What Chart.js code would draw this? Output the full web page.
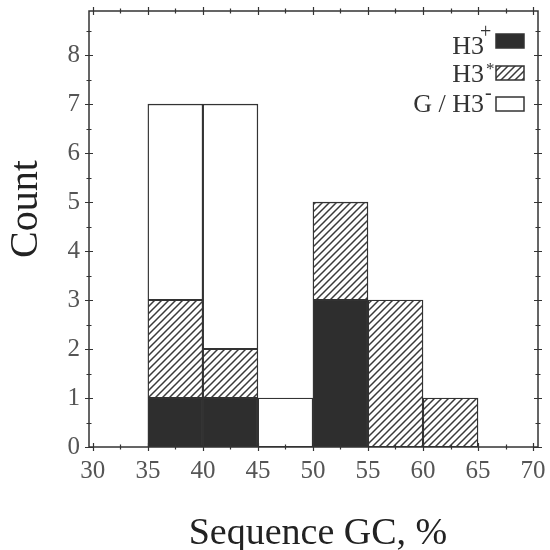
<!DOCTYPE html>
<html>
<head>
<meta charset="utf-8">
<script src="https://cdn.jsdelivr.net/npm/chart.js@4.4.1/dist/chart.umd.min.js"></script>
<style>
html,body{margin:0;padding:0;background:#fff;}
#wrap{width:550px;height:550px;}
</style>
</head>
<body>
<div id="wrap"><canvas id="c" width="550" height="550"></canvas></div>
<script>
// ---- data ----
const binCenters = [37.5, 42.5, 47.5, 52.5, 57.5, 62.5]; // bins 35-40 ... 60-65
const h3Plus    = [1, 1, 0, 3, 0, 0];
const h3Star    = [2, 1, 0, 2, 3, 1];
const gH3Minus  = [4, 5, 1, 0, 0, 0];
const xTicks = [30, 35, 40, 45, 50, 55, 60, 65, 70];
const yTicks = [0, 1, 2, 3, 4, 5, 6, 7, 8];
const legendBase = ['H3', 'H3', 'G / H3'];
const legendSup  = ['+', '*', '-'];
const xTitle = 'Sequence GC, %';
const yTitle = 'Count';

const SERIF = '"Liberation Serif", "DejaVu Serif", serif';
const INK = '#333';

function hatchPattern(){
  const s = 7;
  const c = document.createElement('canvas'); c.width = s; c.height = s;
  const g = c.getContext('2d');
  g.fillStyle = '#fff'; g.fillRect(0,0,s,s);
  g.strokeStyle = '#3a3a3a'; g.lineWidth = 1.5;
  g.beginPath();
  g.moveTo(0,s); g.lineTo(s,0);
  g.moveTo(-2,2); g.lineTo(2,-2);
  g.moveTo(s-2,s+2); g.lineTo(s+2,s-2);
  g.stroke();
  return document.createElement('canvas').getContext('2d').createPattern(c,'repeat');
}
const HATCH = hatchPattern();
const DARK = '#2e2e2e';
const fills = [DARK, HATCH, '#ffffff'];

function toPoints(arr){
  const out = [];
  arr.forEach((v,i)=>{ if(v) out.push({x: binCenters[i], y: v}); });
  return out;
}
const series = [h3Plus, h3Star, gH3Minus];

const datasets = series.map((arr,i)=>({
  label: legendBase[i] + legendSup[i],
  data: toPoints(arr),
  backgroundColor: fills[i],
  borderColor: INK,
  borderWidth: 1.4,
  borderSkipped: false,
  barPercentage: 1,
  categoryPercentage: 1
}));

const decor = {
  id: 'decor',
  afterDatasetsDraw(chart){
    const {ctx, chartArea: a, scales: {x, y}} = chart;
    ctx.save();
    // frame
    ctx.strokeStyle = INK; ctx.lineWidth = 1.5;
    ctx.strokeRect(a.left, a.top, a.right - a.left, a.bottom - a.top);
    // ticks (major + minor), all four sides
    ctx.lineWidth = 1.2;
    ctx.beginPath();
    for (let i = 0; i < xTicks.length; i++){
      const vals = [xTicks[i]];
      if (i < xTicks.length - 1) vals.push((xTicks[i] + xTicks[i+1]) / 2);
      vals.forEach((v,k)=>{
        const px = Math.round(x.getPixelForValue(v)) + 0.5;
        const L = k === 0 ? 4 : 2.5;
        ctx.moveTo(px, a.bottom - L); ctx.lineTo(px, a.bottom + L);
        ctx.moveTo(px, a.top - L); ctx.lineTo(px, a.top + L);
      });
    }
    for (let i = 0; i < yTicks.length; i++){
      const vals = [yTicks[i], yTicks[i] + 0.5];
      vals.forEach((v,k)=>{
        const py = Math.round(y.getPixelForValue(v)) + 0.5;
        const L = k === 0 ? 4 : 2.5;
        ctx.moveTo(a.left - L, py); ctx.lineTo(a.left + L, py);
        ctx.moveTo(a.right - L, py); ctx.lineTo(a.right + L, py);
      });
    }
    ctx.stroke();

    // legend
    const baselines = [54, 82, 112];
    const boxCenters = [41, 73, 104];
    const supSize = [20, 17, 20];
    const supRaise = [16, 8, 13];
    const supX = [480, 486, 485];
    for (let i = 0; i < legendBase.length; i++){
      ctx.fillStyle = '#333';
      ctx.font = '26px ' + SERIF;
      ctx.textAlign = 'right'; ctx.textBaseline = 'alphabetic';
      ctx.fillText(legendBase[i], 484, baselines[i]);
      ctx.font = supSize[i] + 'px ' + SERIF;
      ctx.textAlign = 'left';
      ctx.fillText(legendSup[i], supX[i], baselines[i] - supRaise[i]);
      ctx.fillStyle = fills[i];
      const bx = 496, bw = 28, bh = 14, by = boxCenters[i] - bh/2;
      ctx.fillRect(bx, by, bw, bh);
      ctx.strokeStyle = INK; ctx.lineWidth = 1.5;
      ctx.strokeRect(bx, by, bw, bh);
    }

    // axis titles
    ctx.fillStyle = '#222';
    ctx.textAlign = 'center'; ctx.textBaseline = 'alphabetic';
    ctx.font = '38px ' + SERIF;
    ctx.fillText(xTitle, 318, 544);
    ctx.save();
    ctx.translate(37, 209);
    ctx.rotate(-Math.PI/2);
    ctx.font = '40px ' + SERIF;
    ctx.fillText(yTitle, 0, 0);
    ctx.restore();
    ctx.restore();
  }
};

new Chart(document.getElementById('c'), {
  type: 'bar',
  data: { datasets },
  options: {
    responsive: false,
    animation: false,
    layout: { padding: { top: 11, right: 12, left: 0, bottom: 0 } },
    plugins: { legend: { display: false }, tooltip: { enabled: false } },
    scales: {
      x: {
        type: 'linear',
        stacked: true,
        offset: false,
        min: 29.65,
        max: 70.45,
        grid: { display: false, drawTicks: false },
        border: { display: false },
        afterBuildTicks: s => { s.ticks = xTicks.map(v => ({ value: v })); },
        afterFit: s => { s.height = 103; s.paddingLeft = 0; s.paddingRight = 0; },
        ticks: { color: '#555', font: { family: SERIF, size: 25 }, padding: 9, maxRotation: 0, autoSkip: false }
      },
      y: {
        type: 'linear',
        stacked: true,
        min: 0,
        max: 8.9,
        grid: { display: false, drawTicks: false },
        border: { display: false },
        afterBuildTicks: s => { s.ticks = yTicks.map(v => ({ value: v })); },
        afterFit: s => { s.width = 89; s.paddingTop = 0; s.paddingBottom = 0; },
        ticks: { color: '#555', font: { family: SERIF, size: 25 }, padding: 9 }
      }
    }
  },
  plugins: [decor]
});
</script>
</body>
</html>
